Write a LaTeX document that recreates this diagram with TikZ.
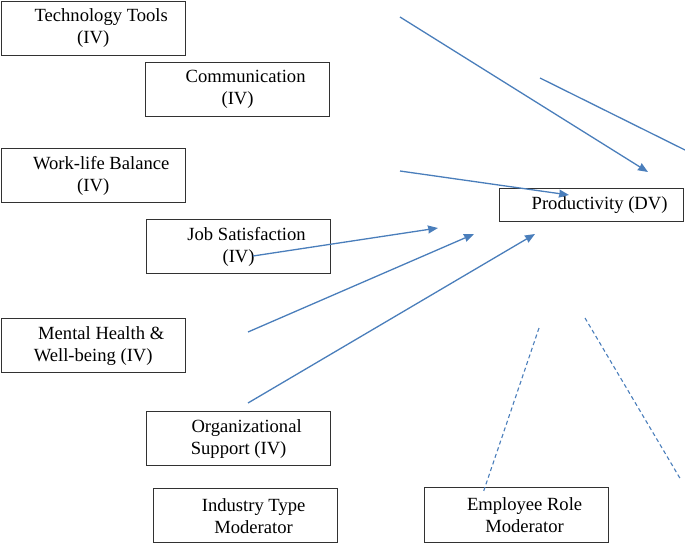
\documentclass[tikz,border=0pt]{standalone}
\usepackage{fontspec}
\setmainfont{Liberation Serif}
\usetikzlibrary{arrows.meta}
\definecolor{myblue}{RGB}{74,126,187}
\definecolor{myframe}{RGB}{50,50,50}
\newcommand{\lpad}{\hspace*{16pt}}

\begin{document}
\begin{tikzpicture}[x=1pt, y=-1pt,
    varbox/.style={draw=myframe, line width=1.2pt, anchor=north west, align=center,
      minimum width=184pt, minimum height=54pt, inner sep=0pt,
      font=\fontsize{18.6pt}{22pt}\selectfont},
    link/.style={draw=myblue, line width=1.3pt, -{Stealth[length=10pt, width=8pt, inset=0.5pt]}},
    plainlink/.style={draw=myblue, line width=1.3pt},
    modlink/.style={draw=myblue, line width=1.1pt, dash pattern=on 4pt off 3pt}]
  \useasboundingbox (0, 0) rectangle (685, 543);
  % variables
  \node[varbox] (tech) at (0.6, 0.6) {\lpad Technology Tools\\(IV)};
  \node[varbox] (comm) at (145, 62) {\lpad Communication\\(IV)};
  \node[varbox] (wlb) at (0.6, 148) {\lpad Work-life Balance\\(IV)};
  \node[varbox] (job) at (146, 219) {\lpad Job Satisfaction\\(IV)};
  \node[varbox] (mental) at (0.6, 318) {\lpad Mental Health \&\\Well-being (IV)};
  \node[varbox] (org) at (146, 411) {\lpad Organizational\\Support (IV)};
  \node[varbox] (prod) at (499, 188) [minimum height=33pt] {\lpad Productivity (DV)};
  % moderators
  \node[varbox] (industry) at (153, 488) [minimum height=54.4pt] {\lpad Industry Type\\\lpad Moderator};
  \node[varbox] (role) at (424, 487) [minimum height=55pt] {\lpad Employee Role\\\lpad Moderator};
  % loose ends of the links
  \coordinate (tech-out) at (400, 17);
  \coordinate (prod-in1) at (648, 172);
  \coordinate (comm-out) at (540, 78);
  \coordinate (comm-end) at (686, 150.5);
  \coordinate (wlb-out) at (400, 171);
  \coordinate (prod-in2) at (569, 195);
  \coordinate (job-out) at (253, 256);
  \coordinate (prod-in3) at (438, 228);
  \coordinate (mental-out) at (248, 332);
  \coordinate (prod-in4) at (474, 234);
  \coordinate (org-out) at (248, 403);
  \coordinate (prod-in5) at (535, 234);
  \coordinate (role-top) at (539, 328);
  \coordinate (role-end) at (483, 493);
  \coordinate (mod-top) at (585, 318);
  \coordinate (mod-end) at (681, 480);
  \draw[link] (tech-out) -- (prod-in1);
  \draw[plainlink] (comm-out) -- (comm-end);
  \draw[link] (wlb-out) -- (prod-in2);
  \draw[link] (job-out) -- (prod-in3);
  \draw[link] (mental-out) -- (prod-in4);
  \draw[link] (org-out) -- (prod-in5);
  \draw[modlink] (role-top) -- (role-end);
  \draw[modlink] (mod-top) -- (mod-end);
\end{tikzpicture}
\end{document}
